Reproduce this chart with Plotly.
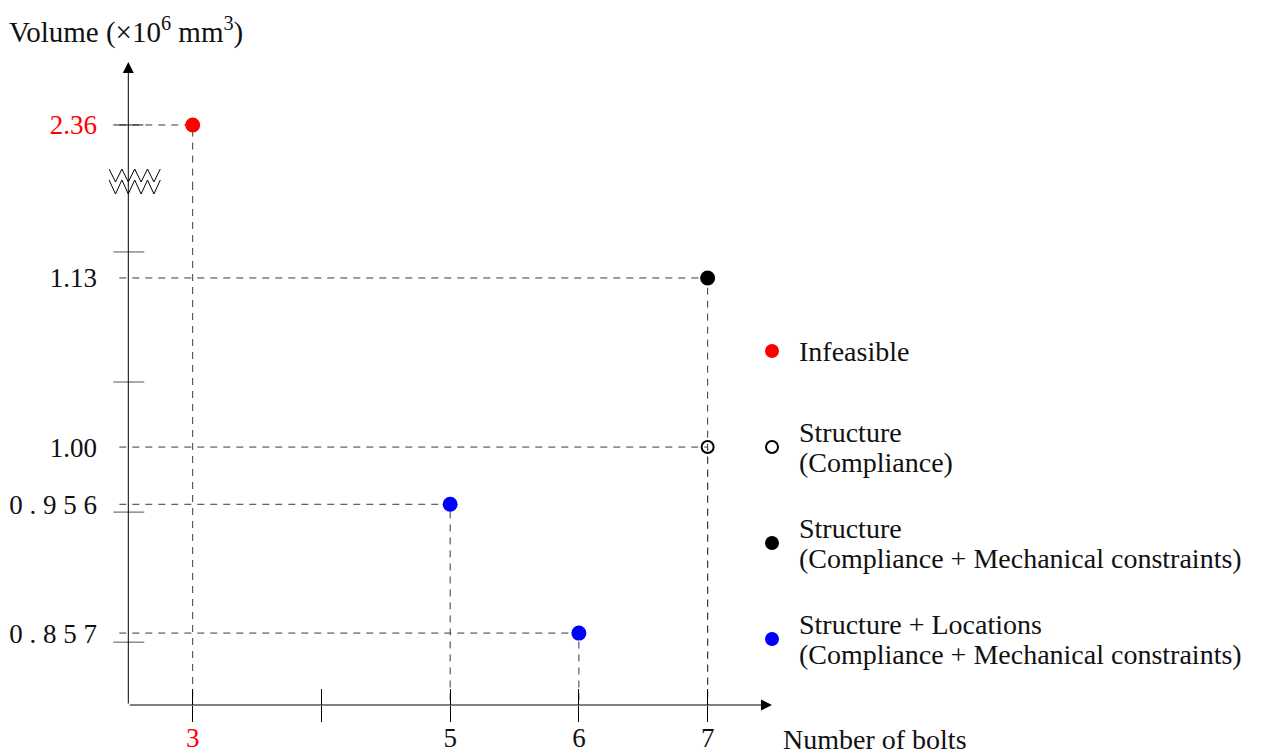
import plotly.graph_objects as go

# ---------------- data ----------------
SERIES_NAMES = [
    ["Infeasible"],
    ["Structure", "(Compliance)"],
    ["Structure", "(Compliance + Mechanical constraints)"],
    ["Structure + Locations", "(Compliance + Mechanical constraints)"],
]
BOLTS_INFEASIBLE = [3]
VOLUME_INFEASIBLE = [2.36]
BOLTS_COMPLIANCE = [7]
VOLUME_COMPLIANCE = [1.00]
BOLTS_MECH = [7]
VOLUME_MECH = [1.13]
BOLTS_LOCATIONS = [5, 6]
VOLUME_LOCATIONS = [0.956, 0.857]

X_TICKS = [3, 4, 5, 6, 7]
X_TICK_LABELS = ['<span style="color:#ff0000">3</span>', "", "5", "6", "7"]
Y_TICKS_LOW = [0.857, 0.956, 1.00, 1.13]
Y_TICK_LABELS_LOW = ["0.857", "0.956", "1.00", "1.13"]
Y_TICKS_HIGH = [2.36]
Y_TICK_LABELS_HIGH = ["2.36"]
Y_MINOR_TICKS = [0.85, 0.95, 1.05, 1.15]

# ---------------- layout constants ----------------
W, H = 1270, 754
ML, MR, MT, MB = 109, 498, 62, 49
PW, PH = W - ML - MR, H - MT - MB
X_RANGE = [2.35, 7.5]
AXIS_X = 2.5
Y_LOW_RANGE = [0.8017, 1.2030]
Y_HIGH_RANGE = [2.3154, 2.4084]
SPLIT = 0.8118
LEADER_START = 2.43
FONT = "Liberation Serif"
FS_TICK = 27
FS_TEXT = 28
DASH = "7px,6px"
GUIDE_COLOR = "#3a3a3a"
TXT = "#111111"


def px_x(px):
    return (px - ML) / PW


def px_y(py):
    return (H - MB - py) / PH


def spread(label):
    # wide label spacing as in the reference for 5-character labels
    return "\u2005".join(label) if len(label) > 4 else label


fig = go.Figure()


def add_guides(xs, ys, axis_is_high):
    style = dict(color=GUIDE_COLOR, width=1, dash=DASH)
    for xv, yv in zip(xs, ys):
        if axis_is_high:
            fig.add_trace(go.Scatter(x=[LEADER_START, xv, xv], y=[yv, yv, Y_HIGH_RANGE[0]],
                                     mode="lines", yaxis="y2", hoverinfo="skip", showlegend=False,
                                     line=style))
            fig.add_trace(go.Scatter(x=[xv, xv], y=[Y_LOW_RANGE[1], Y_LOW_RANGE[0]],
                                     mode="lines", yaxis="y", hoverinfo="skip", showlegend=False,
                                     line=style))
        else:
            fig.add_trace(go.Scatter(x=[LEADER_START, xv, xv], y=[yv, yv, Y_LOW_RANGE[0]],
                                     mode="lines", yaxis="y", hoverinfo="skip", showlegend=False,
                                     line=style))


add_guides(BOLTS_INFEASIBLE, VOLUME_INFEASIBLE, True)
add_guides(BOLTS_MECH, VOLUME_MECH, False)
add_guides(BOLTS_COMPLIANCE, VOLUME_COMPLIANCE, False)
add_guides(BOLTS_LOCATIONS, VOLUME_LOCATIONS, False)

# points
fig.add_trace(go.Scatter(x=BOLTS_INFEASIBLE, y=VOLUME_INFEASIBLE, mode="markers", yaxis="y2",
                         name=" ".join(SERIES_NAMES[0]), showlegend=False, cliponaxis=False,
                         marker=dict(color="#ff0000", size=15, line=dict(width=0))))
fig.add_trace(go.Scatter(x=BOLTS_COMPLIANCE, y=VOLUME_COMPLIANCE, mode="markers", yaxis="y",
                         name=" ".join(SERIES_NAMES[1]), showlegend=False, cliponaxis=False,
                         marker=dict(symbol="circle-open", color="#000000", size=12,
                                     line=dict(width=2, color="#000000"))))
fig.add_trace(go.Scatter(x=BOLTS_MECH, y=VOLUME_MECH, mode="markers", yaxis="y",
                         name=" ".join(SERIES_NAMES[2]), showlegend=False, cliponaxis=False,
                         marker=dict(color="#000000", size=15, line=dict(width=0))))
fig.add_trace(go.Scatter(x=BOLTS_LOCATIONS, y=VOLUME_LOCATIONS, mode="markers", yaxis="y",
                         name=" ".join(SERIES_NAMES[3]), showlegend=False, cliponaxis=False,
                         marker=dict(color="#0000ff", size=15, line=dict(width=0))))

shapes = []
# long ticks crossing the y axis
for t in Y_MINOR_TICKS:
    shapes.append(dict(type="line", xref="x", yref="y", xsizemode="pixel", xanchor=AXIS_X,
                       x0=-15, x1=16, y0=t, y1=t, line=dict(color="#555555", width=1)))
for t in Y_TICKS_HIGH:
    shapes.append(dict(type="line", xref="x", yref="y2", xsizemode="pixel", xanchor=AXIS_X,
                       x0=-15, x1=15, y0=t, y1=t, line=dict(color="#222222", width=1)))


# axis break zigzags
def zig(top, bottom):
    peaks = [-32, -19.2, -6.4, 6.4, 19.2, 32]
    valleys = [-25.6, -12.8, 0, 12.8, 25.6]
    pts = []
    for i, p in enumerate(peaks):
        pts.append((p, top))
        if i < len(valleys):
            pts.append((valleys[i], bottom))
    return "M" + " L".join(f"{a},{b}" for a, b in pts)


for top, bottom in [(12, -1), (1, -13)]:
    shapes.append(dict(type="path", xref="x", yref="paper", xsizemode="pixel", ysizemode="pixel",
                       xanchor=AXIS_X, yanchor=px_y(181), path=zig(top, bottom),
                       line=dict(color="#000000", width=1)))

# legend markers
ROW_Y = [351, 447, 543, 639]
LEG_MARK_X = 772
leg_styles = [
    dict(fill="#ff0000", line="#ff0000", lw=0, r=7),
    dict(fill="#ffffff", line="#000000", lw=2, r=6),
    dict(fill="#000000", line="#000000", lw=0, r=7),
    dict(fill="#0000ff", line="#0000ff", lw=0, r=7),
]
for ry, st in zip(ROW_Y, leg_styles):
    shapes.append(dict(type="circle", xref="paper", yref="paper", xsizemode="pixel", ysizemode="pixel",
                       xanchor=px_x(LEG_MARK_X), yanchor=px_y(ry),
                       x0=-st["r"], x1=st["r"], y0=-st["r"], y1=st["r"],
                       fillcolor=st["fill"], line=dict(color=st["line"], width=st["lw"])))

annotations = []
axis_px = (AXIS_X - X_RANGE[0]) / (X_RANGE[1] - X_RANGE[0]) * PW
# y axis with arrow
annotations.append(dict(x=AXIS_X, y=1, xref="x", yref="paper", text="", showarrow=True,
                        ax=0, ay=PH, arrowhead=2, arrowsize=2.2,
                        arrowwidth=1, arrowcolor="#000000", standoff=0, startstandoff=0))
# x axis with arrow
annotations.append(dict(x=X_RANGE[1], y=0, xref="x", yref="paper", text="", showarrow=True,
                        ax=-(PW - axis_px), ay=0, arrowhead=2, arrowsize=2.2, arrowwidth=1,
                        arrowcolor="#000000", standoff=0, startstandoff=0))
# titles
annotations.append(dict(x=px_x(7), y=px_y(31), xref="paper", yref="paper", xanchor="left", yanchor="middle",
                        text="Volume (×10<sup>6</sup> mm<sup>3</sup>)", showarrow=False,
                        font=dict(family=FONT, size=29, color=TXT)))
annotations.append(dict(x=px_x(781), y=px_y(739), xref="paper", yref="paper", xanchor="left", yanchor="middle",
                        text="Number of bolts", showarrow=False,
                        font=dict(family=FONT, size=FS_TEXT, color=TXT)))
# legend text
for ry, lines in zip(ROW_Y, SERIES_NAMES):
    n = len(lines)
    for i, ln in enumerate(lines):
        cy = ry + (i - (n - 1) / 2) * 30
        annotations.append(dict(x=px_x(797), y=px_y(cy), xref="paper", yref="paper", xanchor="left",
                                yanchor="middle", text=ln, showarrow=False,
                                font=dict(family=FONT, size=FS_TEXT, color=TXT)))

fig.update_layout(
    template="none",
    width=W, height=H, margin=dict(l=ML, r=MR, t=MT, b=MB, pad=0, autoexpand=False),
    plot_bgcolor="#ffffff", paper_bgcolor="#ffffff", showlegend=False,
    font=dict(family=FONT, size=FS_TICK, color=TXT),
    xaxis=dict(range=X_RANGE, domain=[0, 1], anchor="y", tickvals=X_TICKS, ticktext=X_TICK_LABELS,
               ticks="outside", ticklen=16, tickwidth=1, tickcolor="#000000", showline=False,
               showgrid=False, zeroline=False, automargin=False, ticklabelstandoff=-7,
               tickfont=dict(family=FONT, size=FS_TICK, color=TXT)),
    xaxis2=dict(range=X_RANGE, overlaying="x", anchor="y", side="bottom", tickvals=X_TICKS,
                ticks="inside", ticklen=16, tickwidth=1, tickcolor="#000000", showticklabels=False,
                showline=False, showgrid=False, zeroline=False, automargin=False),
    yaxis=dict(range=Y_LOW_RANGE, domain=[0, SPLIT], anchor="x", tickvals=Y_TICKS_LOW,
               ticktext=[spread(s) for s in Y_TICK_LABELS_LOW], ticks="", showline=False,
               showgrid=False, zeroline=False, automargin=False,
               ticklabelstandoff=11, tickfont=dict(family=FONT, size=FS_TICK, color=TXT)),
    yaxis2=dict(range=Y_HIGH_RANGE, domain=[SPLIT, 1], anchor="x", tickvals=Y_TICKS_HIGH,
                ticktext=Y_TICK_LABELS_HIGH, ticks="", showline=False, showgrid=False, zeroline=False,
                automargin=False, ticklabelstandoff=11,
                tickfont=dict(family=FONT, size=FS_TICK, color="#ff0000")),
    shapes=shapes, annotations=annotations,
)
# invisible trace so that the overlaid tick axis is drawn
fig.add_trace(go.Scatter(x=[X_RANGE[0]], y=[Y_LOW_RANGE[0]], xaxis="x2", yaxis="y", mode="markers",
                         marker=dict(opacity=0), hoverinfo="skip", showlegend=False))

fig.write_html("out.html", config={"displayModeBar": False, "staticPlot": True},
               post_script="document.body.style.margin='0';document.body.style.overflow='hidden';")
